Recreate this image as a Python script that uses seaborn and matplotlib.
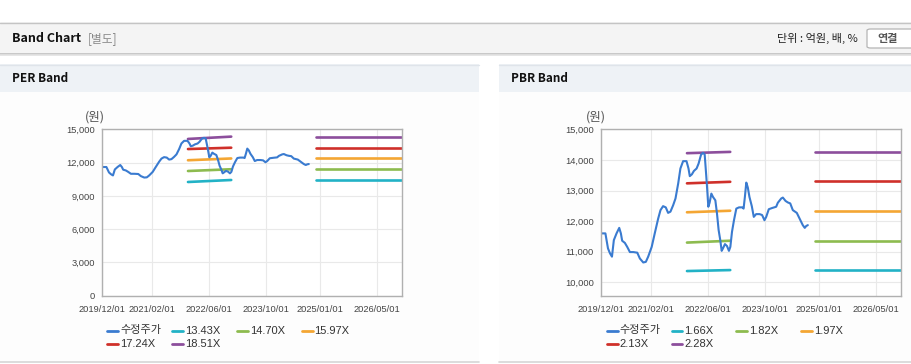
import pandas as pd
import matplotlib.pyplot as plt
import matplotlib.dates as mdates
import seaborn as sns
from matplotlib.patches import Rectangle, FancyBboxPatch
from matplotlib.lines import Line2D
from matplotlib.ticker import FuncFormatter

# 수정주가 (adjusted price)
price_dates = ['2019-12-01', '2020-01-05', '2020-01-27', '2020-02-13', '2020-03-01', '2020-03-17',
               '2020-04-09', '2020-05-02', '2020-05-16', '2020-05-27', '2020-06-19', '2020-07-09',
               '2020-08-01', '2020-08-30', '2020-10-03', '2020-10-25', '2020-11-23', '2020-12-15',
               '2021-01-04', '2021-02-03', '2021-03-01', '2021-03-30', '2021-04-19', '2021-05-11',
               '2021-06-03', '2021-06-23', '2021-07-13', '2021-08-05', '2021-08-25', '2021-09-17',
               '2021-10-06', '2021-10-29', '2021-11-27', '2021-12-14', '2021-12-25', '2022-01-12',
               '2022-01-29', '2022-02-21', '2022-03-10', '2022-03-31', '2022-04-17', '2022-05-01',
               '2022-05-15', '2022-05-23', '2022-06-01', '2022-06-12', '2022-06-27', '2022-07-11',
               '2022-07-31', '2022-08-14', '2022-08-28', '2022-09-11', '2022-09-23', '2022-10-04',
               '2022-10-21', '2022-11-07', '2022-11-24', '2022-12-06', '2022-12-20', '2023-01-06',
               '2023-01-26', '2023-02-18', '2023-03-18', '2023-03-29', '2023-04-09', '2023-04-21',
               '2023-05-04', '2023-05-18', '2023-06-07', '2023-06-24', '2023-07-14', '2023-08-12',
               '2023-09-03', '2023-09-23', '2023-10-08', '2023-10-30', '2023-11-28', '2024-01-01',
               '2024-01-15', '2024-02-13', '2024-02-27', '2024-03-21', '2024-04-10', '2024-04-30',
               '2024-05-22', '2024-06-25', '2024-07-18', '2024-08-15', '2024-09-01', '2024-09-13',
               '2024-09-27']
price = [11600, 11600, 11110, 10950, 10840, 11380, 11600, 11780, 11600, 11360, 11290, 11160,
         10990, 10990, 10970, 10780, 10650, 10670, 10840, 11160, 11600, 12080, 12360, 12490,
         12450, 12270, 12310, 12520, 12740, 13230, 13720, 13960, 13960, 13720, 13470, 13530,
         13640, 13720, 13880, 14170, 14230, 14180, 13450, 13010, 12470, 12600, 12900, 12790,
         12680, 12250, 11710, 11380, 11030, 11110, 11250, 11190, 11030, 11160, 11650, 12030,
         12410, 12450, 12450, 12410, 12790, 13260, 13100, 12790, 12490, 12140, 12230, 12230,
         12200, 12030, 12140, 12390, 12430, 12470, 12600, 12740, 12770, 12660, 12610, 12580,
         12360, 12270, 12090, 11870, 11780, 11840, 11870]

# band segments: start / end of first segment, flat second segment
seg1_dates = ['2021-12-01', '2022-12-05']
seg2_dates = ['2024-12-01', '2026-12-01']

per_labels = ['13.43X', '14.70X', '15.97X', '17.24X', '18.51X']
per_seg1_start = [10250, 11240, 12210, 13220, 14130]
per_seg1_end = [10430, 11400, 12370, 13340, 14340]
per_seg2 = [10420, 11410, 12370, 13340, 14340]

pbr_labels = ['1.66X', '1.82X', '1.97X', '2.13X', '2.28X']
pbr_seg1_start = [10370, 11300, 12290, 13235, 14220]
pbr_seg1_end = [10402, 11360, 12340, 13285, 14262]
pbr_seg2 = [10400, 11360, 12337, 13315, 14261]

xtick_dates = ['2019/12/01', '2021/02/01', '2022/06/01', '2023/10/01', '2025/01/01', '2026/05/01']

price_color = '#3a7bd0'
band_colors = ['#22b2c6', '#8dbb4f', '#f4a633', '#cf302a', '#8c4e9c']

sns.set_style('white')
plt.rcParams['font.family'] = ['Liberation Sans', 'Noto Sans CJK KR']

W, H = 912, 364
fig = plt.figure(figsize=(W / 100, H / 100), dpi=100)


def box(x, y, w, h, color, z=0):
    fig.add_artist(Rectangle((x / W, 1 - (y + h) / H), w / W, h / H, transform=fig.transFigure,
                             facecolor=color, edgecolor='none', zorder=z))


def hline(x0, x1, y, color, lw=1.0):
    fig.add_artist(Line2D([x0 / W, x1 / W], [1 - y / H, 1 - y / H], transform=fig.transFigure,
                          color=color, linewidth=lw, zorder=1))


def ftext(x, y, s, **kw):
    fig.text(x / W, 1 - y / H, s, va='center', **kw)


# page header
box(0, 22, W, 31, '#f4f4f4')
hline(0, W, 22.5, '#c4c4c4')
hline(0, W, 53.5, '#bdbdbd', 1.2)
hline(0, W, 55, '#e2e2e2', 1.2)
ftext(12, 38, 'Band Chart', fontsize=9, fontweight='bold', color='#111111',
      family=['Noto Sans CJK KR'])
ftext(88, 38.5, '[별도]', fontsize=8.5, color='#8a8a8a', family=['Noto Sans CJK KR'])
ftext(858, 38.5, '단위 : 억원, 배, %', fontsize=8, color='#222222', ha='right',
      family=['Noto Sans CJK KR', 'Liberation Sans'])
fig.add_artist(FancyBboxPatch((867 / W, 1 - 48 / H), 50 / W, 19 / H, transform=fig.transFigure,
                              boxstyle='round,pad=0,rounding_size=0.004', facecolor='white',
                              edgecolor='#b5b5b5', linewidth=0.9, zorder=2))
ftext(888, 38.5, '연결', fontsize=8, color='#555555', ha='center', fontweight='bold',
      family=['Noto Sans CJK KR'], zorder=3)

# panel headers
for px0, px1, title in [(0, 479, 'PER Band'), (499, W, 'PBR Band')]:
    box(px0, 64, px1 - px0, 28, '#eef2f6')
    box(px0, 92, px1 - px0, 269, '#fdfdfd')
    hline(px0, px1, 64.5, '#dfe4ea')
    hline(px0, px1, 361.5, '#d6d6d6', 1.2)
    ftext(px0 + 12, 79, title, fontsize=8.5, fontweight='bold', color='#111111',
          family=['Noto Sans CJK KR'])

panels = [
    dict(left=102.3, labels=per_labels, s1a=per_seg1_start, s1b=per_seg1_end, s2=per_seg2,
         ylim=(0, 15000), yticks=range(0, 15001, 3000), leg_x=107.5, unit_x=95),
    dict(left=601.3, labels=pbr_labels, s1a=pbr_seg1_start, s1b=pbr_seg1_end, s2=pbr_seg2,
         ylim=(9565, 15000), yticks=range(10000, 15001, 1000), leg_x=606.7, unit_x=596),
]

for p in panels:
    ax = fig.add_axes([p['left'] / W, 1 - 295.7 / H, 299.7 / W, 166.4 / H])
    ax.set_facecolor('white')

    rows = []
    for lab, a, b, c in zip(p['labels'], p['s1a'], p['s1b'], p['s2']):
        rows += [(seg1_dates[0], a, lab, 1), (seg1_dates[1], b, lab, 1),
                 (seg2_dates[0], c, lab, 2), (seg2_dates[1], c, lab, 2)]
    bands = pd.DataFrame(rows, columns=['date', 'value', 'band', 'seg'])
    bands['date'] = pd.to_datetime(bands['date'])
    sns.lineplot(data=bands, x='date', y='value', hue='band', units='seg', estimator=None,
                 palette=dict(zip(p['labels'], band_colors)), linewidth=1.9, legend=False, ax=ax)

    sns.lineplot(x=pd.to_datetime(price_dates), y=price, color=price_color, linewidth=1.5, ax=ax)

    ax.set_xlim(pd.Timestamp('2019-12-01'), pd.Timestamp('2026-12-01'))
    ax.set_ylim(*p['ylim'])
    ax.set_xticks(pd.to_datetime(xtick_dates))
    ax.xaxis.set_major_formatter(mdates.DateFormatter('%Y/%m/%d'))
    ax.set_yticks(list(p['yticks']))
    ax.yaxis.set_major_formatter(FuncFormatter(lambda v, _: f'{int(v):,}'))
    ax.set_xlabel('')
    ax.set_ylabel('')
    ax.grid(True, color='#e9e9e9', linewidth=0.8)
    ax.set_axisbelow(True)
    for s in ax.spines.values():
        s.set_color('#b0b0b0')
        s.set_linewidth(1.0)
    ax.tick_params(axis='both', length=3.5, width=0.8, color='#b0b0b0', labelsize=6.7,
                   labelcolor='#444444', pad=2)
    ax.tick_params(axis='x', pad=3)

    ftext(p['unit_x'], 117, '(원)', fontsize=9, color='#555555', ha='center',
          family=['Noto Sans CJK KR'])

    # legend, row-major with fixed column width
    items = [('수정주가', price_color)] + list(zip(p['labels'], band_colors))
    for i, (lab, col) in enumerate(items):
        x = p['leg_x'] + (i % 4) * 64.8
        y = 330.5 + (i // 4) * 13.4
        fig.add_artist(Line2D([x / W, (x + 11) / W], [1 - y / H, 1 - y / H],
                              transform=fig.transFigure, color=col, linewidth=2.0))
        ftext(x + 12.5, y, lab, fontsize=8, color='#333333')

fig.savefig('out.png', dpi=100)
